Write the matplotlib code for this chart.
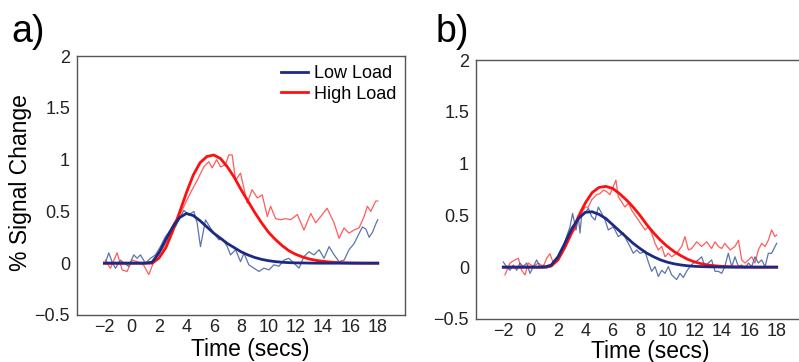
import matplotlib
matplotlib.use("Agg")
import matplotlib.pyplot as plt

# ---------------- data ----------------
# fitted curves, sampled every 0.5 s from -2 to 18
t_fit = [-2.0, -1.5, -1.0, -0.5, 0.0, 0.5, 1.0, 1.5, 2.0, 2.5, 3.0, 3.5, 4.0, 4.5,
         5.0, 5.5, 6.0, 6.5, 7.0, 7.5, 8.0, 8.5, 9.0, 9.5, 10.0, 10.5, 11.0, 11.5,
         12.0, 12.5, 13.0, 13.5, 14.0, 14.5, 15.0, 15.5, 16.0, 16.5, 17.0, 17.5, 18.0]

a_low_fit = [0, 0, 0, 0, 0, 0, 0, 0.01, 0.10, 0.23, 0.35, 0.44, 0.48, 0.46,
             0.41, 0.35, 0.29, 0.24, 0.19, 0.15, 0.11, 0.08, 0.055, 0.037, 0.024, 0.015, 0.009, 0.005,
             0.003, 0.002, 0.001, 0, 0, 0, 0, 0, 0, 0, 0, 0, 0]
a_high_fit = [0, 0, 0, 0, 0, 0, 0, 0, 0.05, 0.15, 0.31, 0.49, 0.68, 0.85,
              0.97, 1.03, 1.045, 1.01, 0.93, 0.83, 0.71, 0.60, 0.49, 0.39, 0.30, 0.23, 0.17, 0.12,
              0.085, 0.06, 0.04, 0.027, 0.018, 0.011, 0.007, 0.004, 0.002, 0.001, 0, 0, 0]
b_low_fit = [0, 0, 0, 0, 0, 0, 0, 0.02, 0.10, 0.23, 0.37, 0.47, 0.53, 0.535,
             0.51, 0.47, 0.41, 0.35, 0.29, 0.23, 0.18, 0.135, 0.10, 0.07, 0.048, 0.032, 0.021, 0.013,
             0.008, 0.005, 0.003, 0.002, 0.001, 0, 0, 0, 0, 0, 0, 0, 0]
b_high_fit = [0, 0, 0, 0, 0, 0, 0, 0.01, 0.07, 0.19, 0.33, 0.49, 0.62, 0.72,
              0.77, 0.78, 0.76, 0.71, 0.65, 0.58, 0.50, 0.41, 0.33, 0.26, 0.20, 0.15, 0.11, 0.075,
              0.05, 0.033, 0.02, 0.013, 0.008, 0.005, 0.003, 0.002, 0.001, 0, 0, 0, 0]

# raw (noisy) time courses
a_high_t = [-1.93, -1.56, -1.07, -0.70, -0.34, 0.03, 0.39, 0.88, 1.25, 1.49, 1.86, 2.22, 2.59,
            3.08, 3.57, 3.93, 4.30, 4.79, 5.27, 5.64, 5.89, 6.21, 6.50, 6.86, 7.10, 7.35, 7.60,
            7.96, 8.45, 8.81, 9.19, 9.55, 9.92, 10.16, 10.53, 10.90, 11.26, 11.63, 12.12, 12.60,
            13.10, 13.46, 13.82, 14.30, 14.80, 15.17, 15.53, 15.90, 16.26, 16.63, 17.00, 17.24,
            17.49, 17.85, 18.0]
a_high_v = [0.03, -0.05, 0.10, -0.065, -0.08, 0.03, 0.015, -0.02, -0.11, -0.03, 0.10, 0.13, 0.22,
            0.39, 0.48, 0.58, 0.68, 0.80, 0.93, 0.98, 0.92, 1.00, 0.93, 0.95, 1.045, 1.045, 0.80,
            0.87, 0.58, 0.71, 0.63, 0.66, 0.45, 0.55, 0.43, 0.42, 0.43, 0.42, 0.47, 0.32,
            0.48, 0.39, 0.45, 0.53, 0.39, 0.24, 0.34, 0.29, 0.32, 0.34, 0.45, 0.55,
            0.50, 0.60, 0.60]

a_low_t = [-1.93, -1.68, -1.44, -1.19, -0.82, -0.58, -0.22, 0.15, 0.39, 0.64, 1.00, 1.37, 1.74,
           2.10, 2.47, 2.84, 3.20, 3.57, 3.81, 4.18, 4.55, 4.79, 5.03, 5.40, 5.77, 6.13, 6.38,
           6.62, 6.99, 7.23, 7.60, 7.96, 8.21, 8.57, 8.94, 9.31, 9.67, 10.04, 10.40, 10.77,
           11.14, 11.50, 11.87, 12.24, 12.60, 12.97, 13.34, 13.71, 14.07, 14.44, 14.81, 15.17,
           15.54, 15.90, 16.27, 16.52, 16.88, 17.13, 17.37, 17.62, 17.86, 18.0]
a_low_v = [0.0, 0.10, 0.015, -0.05, 0.03, 0.0, -0.03, 0.08, 0.047, 0.08, 0.0, 0.047, 0.08,
           0.16, 0.257, 0.32, 0.35, 0.45, 0.51, 0.466, 0.50, 0.386, 0.16, 0.418, 0.338, 0.27, 0.225,
           0.24, 0.16, 0.08, 0.13, 0.015, 0.096, -0.016, -0.048, -0.08, -0.048, -0.065, -0.016, -0.03,
           0.03, 0.047, 0.0, -0.048, 0.064, 0.11, 0.08, 0.13, 0.047, 0.16, 0.08, 0.015,
           0.03, 0.13, 0.19, 0.257, 0.35, 0.33, 0.25, 0.30, 0.38, 0.42]

b_high_t = [-1.88, -1.51, -1.15, -0.90, -0.66, -0.41, -0.17, 0.20, 0.56, 0.93, 1.17, 1.41, 1.66,
            1.90, 2.15, 2.51, 2.76, 3.00, 3.24, 3.49, 3.73, 3.98, 4.22, 4.46, 4.83, 5.07, 5.32,
            5.56, 5.80, 6.05, 6.24, 6.41, 6.66, 6.90, 7.15, 7.39, 7.88, 8.37, 8.61, 8.85, 9.10,
            9.34, 9.59, 9.83, 10.07, 10.32, 10.68, 11.05, 11.29, 11.54, 11.78, 12.15, 12.50,
            12.88, 13.24, 13.49, 13.73, 13.98, 14.20, 14.60, 14.95, 15.20, 15.44, 15.68, 15.93,
            16.17, 16.41, 16.66, 16.90, 17.15, 17.39, 17.63, 17.88, 18.0]
b_high_v = [-0.075, 0.04, 0.07, 0.086, -0.03, -0.075, 0.04, 0.005, 0.04, 0.005, 0.086, 0.13, 0.04,
            0.07, 0.10, 0.20, 0.26, 0.33, 0.36, 0.455, 0.52, 0.58, 0.58, 0.65, 0.70, 0.71, 0.745,
            0.73, 0.70, 0.78, 0.84, 0.68, 0.63, 0.58, 0.62, 0.55, 0.455, 0.36, 0.39, 0.33, 0.23,
            0.166, 0.20, 0.10, 0.134, 0.10, 0.134, 0.20, 0.295, 0.166, 0.18, 0.245, 0.20,
            0.245, 0.18, 0.245, 0.20, 0.18, 0.23, 0.166, 0.20, 0.26, 0.07, 0.04, 0.07,
            0.10, 0.04, 0.166, 0.23, 0.20, 0.26, 0.36, 0.295, 0.31]

b_low_t = [-2.0, -1.76, -1.51, -1.27, -1.02, -0.78, -0.54, -0.29, -0.05, 0.20, 0.44, 0.68, 0.93,
           1.17, 1.41, 1.66, 1.90, 2.15, 2.39, 2.63, 2.88, 3.07, 3.17, 3.32, 3.49, 3.61, 3.73,
           3.98, 4.22, 4.46, 4.71, 4.95, 5.20, 5.44, 5.68, 6.05, 6.41, 6.78, 7.02, 7.27, 7.51,
           7.76, 8.00, 8.37, 8.61, 8.85, 9.10, 9.34, 9.59, 9.83, 10.07, 10.32, 10.68, 10.93,
           11.17, 11.41, 11.66, 11.90, 12.27, 12.51, 12.76, 13.00, 13.24, 13.49, 13.73, 13.98,
           14.20, 14.46, 14.71, 14.95, 15.20, 15.44, 15.68, 15.93, 16.17, 16.41, 16.66, 16.90,
           17.15, 17.27, 17.39, 17.63, 17.88, 18.0]
b_low_v = [0.05, 0.005, -0.03, 0.02, -0.03, 0.04, 0.005, 0.04, -0.06, 0.005, 0.07, 0.005, 0.02,
           -0.01, 0.005, 0.04, 0.07, 0.12, 0.20, 0.295, 0.39, 0.52, 0.455, 0.36, 0.49, 0.33, 0.50,
           0.52, 0.57, 0.49, 0.455, 0.58, 0.52, 0.455, 0.36, 0.39, 0.295, 0.33, 0.26, 0.20, 0.134,
           0.166, 0.134, 0.15, 0.05, -0.04, 0.005, -0.09, -0.03, -0.06, 0.005, -0.075, -0.12, -0.06,
           -0.10, -0.04, 0.005, 0.04, 0.07, 0.10, 0.005, 0.04, 0.07, -0.04, -0.04, -0.06,
           0.005, 0.134, 0.005, 0.10, 0.005, 0.02, -0.01, 0.04, 0.005, 0.10, 0.04, 0.07,
           0.005, 0.07, 0.134, 0.134, 0.20, 0.23]

x_ticks = [-2, 0, 2, 4, 6, 8, 10, 12, 14, 16, 18]
y_ticks = [-0.5, 0, 0.5, 1, 1.5, 2]
y_tick_labels = ["\u22120.5", "0", "0.5", "1", "1.5", "2"]
series_labels = ["Low Load", "High Load"]
panel_labels = ["a)", "b)"]

# ---------------- style ----------------
RED_FIT = "#ff1010"
RED_RAW = "#ff4a4a"
BLUE_FIT = "#1c2a82"
BLUE_RAW = "#4a64a6"

plt.rcParams["font.family"] = ["Liberation Sans", "DejaVu Sans"]

fig = plt.figure(figsize=(7.99, 3.62), dpi=100)
ax_a = fig.add_axes([0.0964, 0.130, 0.4106, 0.715])
ax_b = fig.add_axes([0.5957, 0.119, 0.4200, 0.715])

panels = [
    (ax_a, a_low_t, a_low_v, a_high_t, a_high_v, a_low_fit, a_high_fit, 20.0),
    (ax_b, b_low_t, b_low_v, b_high_t, b_high_v, b_low_fit, b_high_fit, 20.55),
]

legend_lines = []
for ax, lt, lv, ht, hv, lfit, hfit, xmax in panels:
    ax.plot(ht, hv, color=RED_RAW, lw=0.9, alpha=0.9)
    ax.plot(lt, lv, color=BLUE_RAW, lw=0.9, alpha=0.9)
    h_line, = ax.plot(t_fit, hfit, color=RED_FIT, lw=2.0)
    l_line, = ax.plot(t_fit, lfit, color=BLUE_FIT, lw=2.0)
    legend_lines.append((l_line, h_line))
    ax.set_xlim(-4, xmax)
    ax.set_ylim(-0.5, 2)
    ax.set_xticks(x_ticks)
    ax.set_yticks(y_ticks)
    ax.set_yticklabels(y_tick_labels)
    ax.tick_params(length=0, labelsize=13, colors="#222222", pad=3)
    ax.tick_params(axis="y", pad=5)
    for s in ax.spines.values():
        s.set_color("#555555")
        s.set_linewidth(1.0)
    ax.set_xlabel("Time (secs)", fontsize=16.5)

ax_a.xaxis.set_label_coords(0.528, -0.088)
ax_b.xaxis.set_label_coords(0.518, -0.083)

ax_a.set_ylabel("% Signal Change", fontsize=16.5)
ax_a.yaxis.set_label_coords(-0.137, 0.51)

ax_a.legend(list(legend_lines[0]), series_labels, loc="upper right",
            frameon=False, fontsize=13, handlelength=1.5, handletextpad=0.3,
            labelspacing=0.2, borderaxespad=0.1)

fig.text(0.014, 0.96, panel_labels[0], fontsize=27, va="top", ha="left")
fig.text(0.545, 0.96, panel_labels[1], fontsize=27, va="top", ha="left")

fig.savefig("out.png", dpi=100)
